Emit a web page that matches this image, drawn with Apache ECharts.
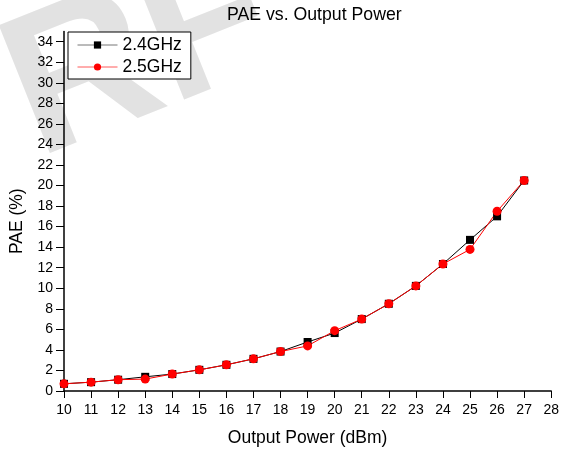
<!DOCTYPE html>
<html>
<head>
<meta charset="utf-8">
<script src="https://cdn.jsdelivr.net/npm/echarts@6/dist/echarts.min.js"></script>
<style>html,body{margin:0;padding:0;background:#fff}#c{width:562px;height:452px}</style>
</head>
<body>
<div id="c"></div>
<script>
const outputPower = [10, 11, 12, 13, 14, 15, 16, 17, 18, 19, 20, 21, 22, 23, 24, 25, 26, 27];
const pae24 = [0.7, 0.86, 1.1, 1.38, 1.65, 2.06, 2.55, 3.13, 3.84, 4.77, 5.64, 7.0, 8.49, 10.23, 12.36, 14.71, 17.0, 20.49];
const pae25 = [0.7, 0.86, 1.1, 1.16, 1.65, 2.06, 2.55, 3.13, 3.84, 4.39, 5.87, 7.0, 8.49, 10.23, 12.36, 13.78, 17.49, 20.49];
const yTicks = [0, 2, 4, 6, 8, 10, 12, 14, 16, 18, 20, 22, 24, 26, 28, 30, 32, 34];
const seriesNames = ['2.4GHz', '2.5GHz'];

const FONT = '"Liberation Sans", Arial, sans-serif';
const chart = echarts.init(document.getElementById('c'), null, {renderer: 'canvas'});
chart.setOption({
  backgroundColor: '#fff',
  animation: false,
  graphic: [{
    type: 'text', z: -10, left: -20, top: -85, rotation: 0.38,
    style: {text: 'RF', font: 'bold 200px "Liberation Sans", Arial', fill: '#e2e2e2'}
  }],
  title: {
    text: 'PAE vs. Output Power', left: 227, top: 6, padding: 0,
    textStyle: {fontFamily: FONT, fontSize: 17.7, fontWeight: 'normal', color: '#000'}
  },
  legend: {
    orient: 'vertical', left: 68, top: 32,
    padding: [4, 9, 3, 9], itemGap: 4, itemWidth: 40, itemHeight: 9,
    borderColor: '#000', borderWidth: 1, backgroundColor: '#fff',
    textStyle: {fontFamily: FONT, fontSize: 17.5, color: '#000'},
    data: [
      {name: seriesNames[0], lineStyle: {color: '#777', width: 1}},
      {name: seriesNames[1], lineStyle: {color: '#ff5a5a', width: 1}}
    ]
  },
  grid: {left: 61, right: 8, top: 31.4, bottom: 59, containLabel: false},
  xAxis: {
    type: 'value', min: 10, max: 28, interval: 1,
    name: 'Output Power (dBm)', nameLocation: 'middle', nameGap: 38,
    nameTextStyle: {fontFamily: FONT, fontSize: 17.5, color: '#000'},
    axisLine: {lineStyle: {color: '#000', width: 1.5}},
    axisTick: {inside: false, length: 7, lineStyle: {color: '#000', width: 1}},
    axisLabel: {fontFamily: FONT, fontSize: 14, color: '#000', margin: 12},
    splitLine: {show: false}
  },
  yAxis: {
    type: 'value', min: 0, max: 35, interval: 1,
    name: 'PAE (%)', nameLocation: 'middle', nameGap: 38,
    nameTextStyle: {fontFamily: FONT, fontSize: 17.5, color: '#000', padding: [0, 20, 0, 0]},
    axisLine: {lineStyle: {color: '#000', width: 1.5}},
    axisTick: {inside: false, length: 8, customValues: yTicks, lineStyle: {color: '#000', width: 1}},
    axisLabel: {fontFamily: FONT, fontSize: 14, color: '#000', margin: 11, customValues: yTicks},
    splitLine: {show: false}
  },
  series: [{
    name: seriesNames[0], type: 'line',
    data: outputPower.map((x, i) => [x, pae24[i]]),
    symbol: 'rect', symbolSize: 8,
    itemStyle: {color: '#000'},
    lineStyle: {color: '#000', width: 1}
  }, {
    name: seriesNames[1], type: 'line',
    data: outputPower.map((x, i) => [x, pae25[i]]),
    symbol: 'circle', symbolSize: 9,
    itemStyle: {color: '#ff0000'},
    lineStyle: {color: '#ff0000', width: 1}
  }]
});
</script>
</body>
</html>
